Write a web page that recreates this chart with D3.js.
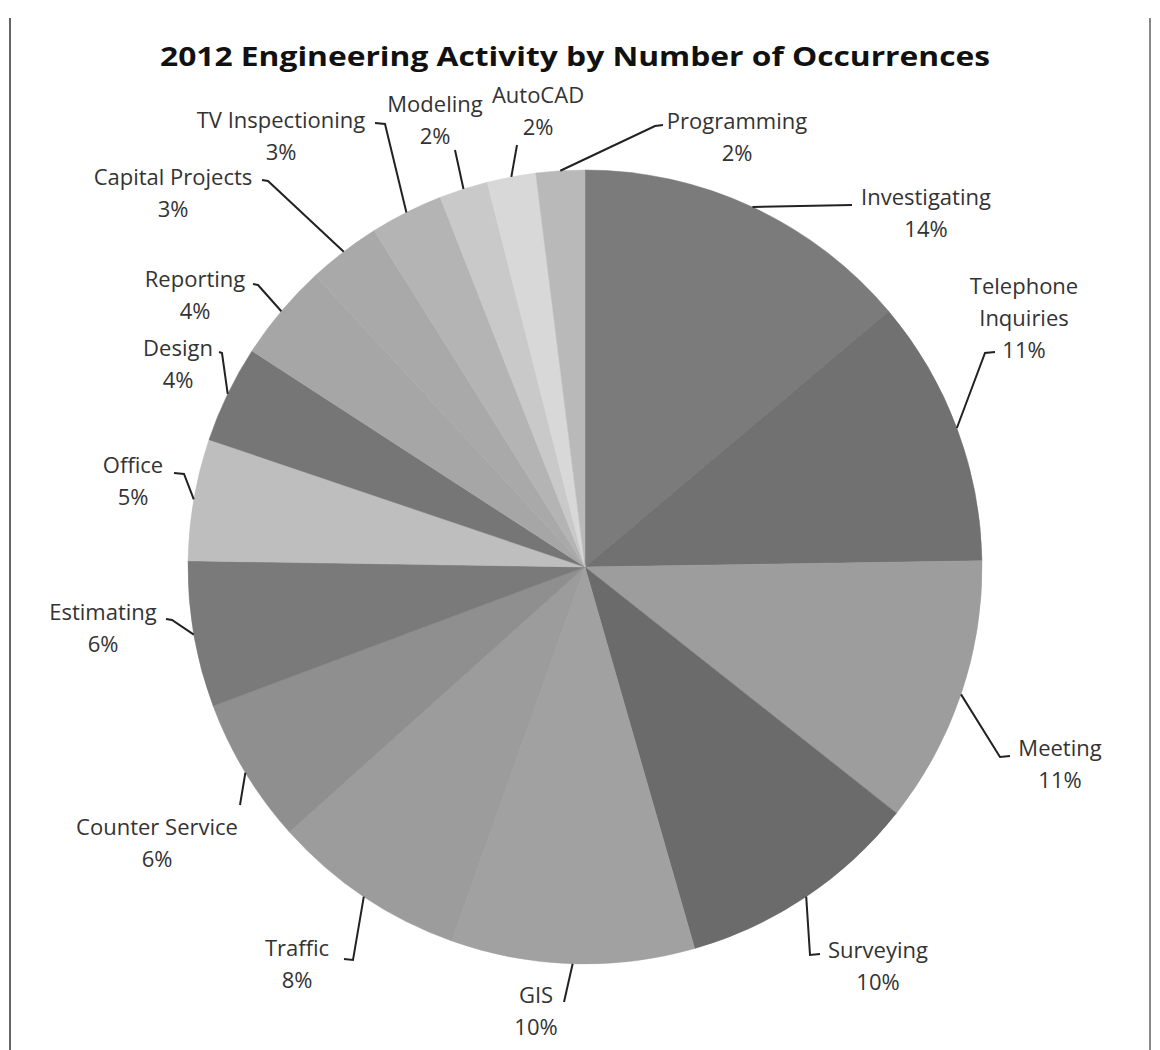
<!DOCTYPE html>
<html>
<head>
<meta charset="utf-8">
<script src="https://cdn.jsdelivr.net/npm/d3@7"></script>
<style>
  body { margin: 0; background: #fff; }
  text { font-family: "Open Sans", "Liberation Sans", sans-serif; }
</style>
</head>
<body>
<div id="chart"></div>
<script>
const categories = ["Investigating", "Telephone Inquiries", "Meeting", "Surveying", "GIS", "Traffic",
    "Counter Service", "Estimating", "Office", "Design", "Reporting", "Capital Projects",
    "TV Inspectioning", "Modeling", "AutoCAD", "Programming"];
const percents = [14, 11, 11, 10, 10, 8, 6, 6, 5, 4, 4, 3, 3, 2, 2, 2];
const shades = ["#7b7b7b", "#717171", "#9d9d9d", "#6b6b6b", "#a1a1a1", "#9c9c9c", "#8f8f8f", "#7a7a7a",
    "#bebebe", "#767676", "#a6a6a6", "#a9a9a9", "#b4b4b4", "#c9c9c9", "#d8d8d8", "#b9b9b9"];

// label placement: text centre x, first line y, leader end point, tick direction
const labelLayout = [
    {x: 926, y: 197, end: [852, 205], tick: 0},
    {x: 1024, y: 286, end: [985, 353], tick: 10},
    {x: 1060, y: 748, end: [1000, 757], tick: 10},
    {x: 878, y: 950, end: [810, 955], tick: 10},
    {x: 536, y: 995, end: [564, 1002], tick: 0},
    {x: 297, y: 948, end: [353, 960], tick: -9},
    {x: 157, y: 827, end: [240, 805], tick: 0},
    {x: 103, y: 612, end: [172, 620], tick: -6},
    {x: 133, y: 465, end: [184, 474], tick: -10},
    {x: 178, y: 348, end: [222, 353], tick: -3},
    {x: 195, y: 279, end: [258, 285], tick: -5},
    {x: 173, y: 177, end: [268, 181], tick: -6},
    {x: 281, y: 120, end: [385, 124], tick: -10},
    {x: 435, y: 104, end: [455, 150], tick: 0},
    {x: 538, y: 95, end: [517, 145], tick: 0},
    {x: 737, y: 121, end: [655, 126], tick: 8}
];

const width = 1160, height = 1050;
const cx = 585, cy = 567, radius = 397;

const svg = d3.select("#chart").append("svg")
    .attr("width", width)
    .attr("height", height);

// chart frame
svg.append("line").attr("x1", 10).attr("x2", 10).attr("y1", 18).attr("y2", height)
    .attr("stroke", "#666").attr("stroke-width", 2);
svg.append("line").attr("x1", 1150).attr("x2", 1150).attr("y1", 18).attr("y2", height)
    .attr("stroke", "#888").attr("stroke-width", 2);

svg.append("text")
    .attr("x", 575)
    .attr("y", 66)
    .attr("text-anchor", "middle")
    .attr("font-size", 27)
    .attr("font-weight", "bold")
    .attr("fill", "#111")
    .attr("textLength", 830)
    .attr("lengthAdjust", "spacingAndGlyphs")
    .text("2012 Engineering Activity by Number of Occurrences");

const data = categories.map((c, i) => ({name: c, value: percents[i], color: shades[i], label: labelLayout[i]}));

const pie = d3.pie().sort(null).value(d => d.value);
const arc = d3.arc().innerRadius(0).outerRadius(radius);
const arcs = pie(data);

const g = svg.append("g").attr("transform", `translate(${cx}, ${cy})`);

g.selectAll("path.slice")
    .data(arcs)
    .join("path")
    .attr("class", "slice")
    .attr("d", arc)
    .attr("fill", d => d.data.color)
    .attr("stroke", d => d.data.color)
    .attr("stroke-width", 0.5);

// leader lines
svg.selectAll("polyline.leader")
    .data(arcs)
    .join("polyline")
    .attr("class", "leader")
    .attr("fill", "none")
    .attr("stroke", "#222")
    .attr("stroke-width", 2)
    .attr("points", d => {
        const a = (d.startAngle + d.endAngle) / 2;
        const sx = cx + radius * Math.sin(a);
        const sy = cy - radius * Math.cos(a);
        const e = d.data.label.end;
        const pts = [[sx, sy], e];
        if (d.data.label.tick) pts.push([e[0] + d.data.label.tick, e[1] - 1]);
        return pts.map(p => p.join(",")).join(" ");
    });

const labels = svg.selectAll("text.label")
    .data(arcs)
    .join("text")
    .attr("class", "label")
    .attr("text-anchor", "middle")
    .attr("font-size", 22)
    .attr("fill", "#333")
    .attr("transform", d => `translate(${d.data.label.x}, ${d.data.label.y + 8})`);

labels.each(function(d) {
    const t = d3.select(this);
    const lines = d.data.name === "Telephone Inquiries" ? ["Telephone", "Inquiries"] : [d.data.name];
    lines.push(d3.format(".0f")(d.data.value) + "%");
    lines.forEach((s, i) => {
        t.append("tspan").attr("x", 0).attr("dy", i === 0 ? 0 : 32).text(s);
    });
});
</script>
</body>
</html>
